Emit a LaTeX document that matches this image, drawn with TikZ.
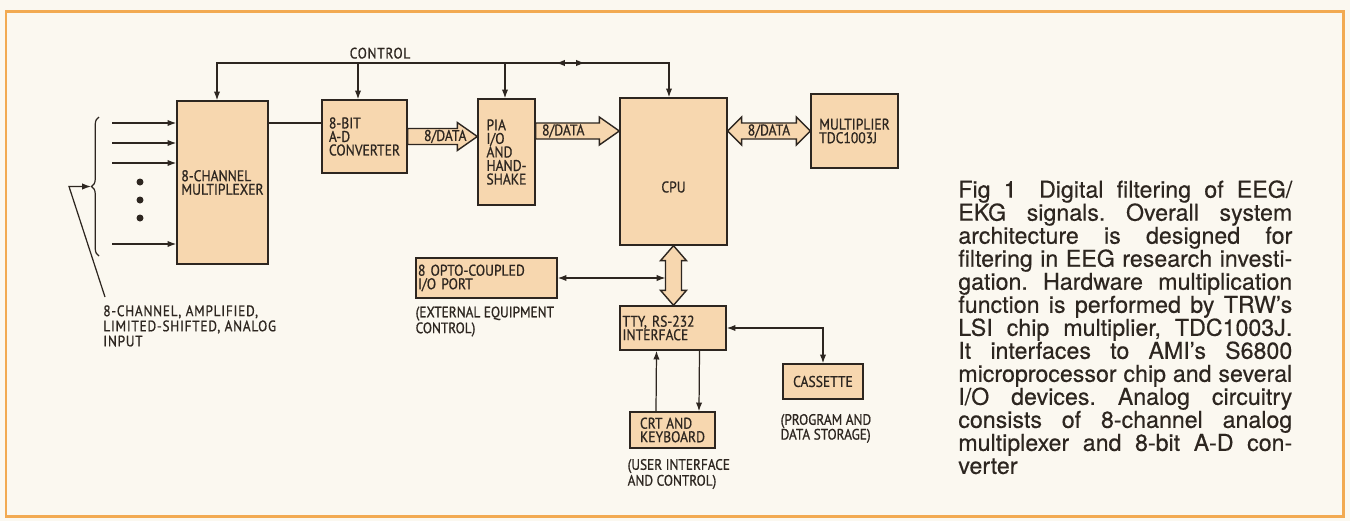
\documentclass[tikz,border=0pt]{standalone}
\usepackage{fontspec}
\setmainfont[FakeBold=0.4]{TeX Gyre Heros}
\newfontfamily\diagfont[FakeStretch=0.88, FakeBold=0.8]{PT Sans}
\newfontfamily\widefont[FakeStretch=0.88, FakeBold=0.8, LetterSpace=5]{PT Sans}
\usepackage{tikz}
\usetikzlibrary{arrows.meta,positioning,calc,decorations.pathreplacing}

\definecolor{paper}{RGB}{251,248,240}
\definecolor{edgeorange}{RGB}{242,170,82}
\definecolor{boxfill}{RGB}{247,215,175}
\definecolor{ink}{RGB}{45,38,32}

\begin{document}
\begin{tikzpicture}[
  x=0.02cm, y=-0.02cm,
  blk/.style={draw=ink, line width=0.8pt, fill=boxfill, text=ink, align=left,
              inner sep=0pt, font=\diagfont\fontsize{8.8}{7.7}\selectfont},
  note/.style={text=ink, align=left, inner sep=0pt,
               font=\diagfont\fontsize{8.6}{7.0}\selectfont},
  wire/.style={draw=ink, line width=0.7pt},
  bus/.style={draw=ink, line width=0.8pt, fill=boxfill},
  bustext/.style={text=ink, inner sep=0pt, font=\diagfont\fontsize{8.8}{8.8}\selectfont},
  % fat bus arrows, sizes in pixel units
  busr/.style={to path={($(\tikztostart)+(0,-8)$) -- ($(\tikztotarget)+(-20,-8)$)
      -- +(0,-6) -- (\tikztotarget) -- +(-20,14) -- +(-20,8)
      -- ($(\tikztostart)+(0,8)$) -- cycle}},
  buslr/.style={to path={(\tikztostart) -- +(14,-14) -- +(14,-8)
      -- ($(\tikztotarget)+(-14,-8)$) -- +(0,-6) -- (\tikztotarget)
      -- +(-14,14) -- +(-14,8) -- ($(\tikztostart)+(14,8)$) -- +(0,6) -- cycle}},
  busud/.style={to path={(\tikztostart) -- +(13,15) -- +(8,15)
      -- ($(\tikztotarget)+(8,-15)$) -- +(5,0) -- (\tikztotarget)
      -- +(-13,-15) -- +(-8,-15) -- ($(\tikztostart)+(-8,15)$) -- +(-5,0) -- cycle}},
  >={Latex[length=5pt,width=3.6pt]}
]
\fill[paper] (0,0) rectangle (1350,521);
\useasboundingbox (0,0) rectangle (1350,521);
\draw[edgeorange, line width=0.06cm] (6,11) rectangle (1343,516);

% blocks
\node[blk, minimum width=1.82cm, minimum height=3.26cm] (mux) at (222.5,182.5) {8-CHANNEL\\MULTIPLEXER};
\node[blk, minimum width=1.70cm, minimum height=1.46cm] (adc) at (364.5,136.5) {8-BIT\\A-D\\CONVERTER};
\node[blk, minimum width=1.14cm, minimum height=2.12cm] (pia) at (506.5,152) {PIA\\I/O\\AND\\HAND-\\SHAKE};
\node[blk, minimum width=2.14cm, minimum height=2.94cm,
      label={[bustext, yshift=-0.31cm]center:CPU}] (cpu) at (673.5,171.5) {};
\node[blk, minimum width=1.74cm, minimum height=1.48cm] (mult) at (854.5,131) {MULTIPLIER\\TDC1003J};
\node[blk, minimum width=2.82cm, minimum height=0.80cm, text width=2.74cm] (opto) at (486.5,278) {8 OPTO-COUPLED\\I/O PORT};
\node[blk, minimum width=2.12cm, minimum height=0.88cm, text width=2.02cm] (tty) at (673,328) {TTY, RS-232\\INTERFACE};
\node[blk, minimum width=1.60cm, minimum height=0.70cm] (cas) at (823,381.5) {CASSETTE};
\node[blk, minimum width=1.70cm, minimum height=0.72cm] (crt) at (672.5,430) {CRT AND\\KEYBOARD};

% notes under blocks
\node[note, below=0.15cm of opto.south west, anchor=north west] (optonote) {(EXTERNAL EQUIPMENT\\CONTROL)};
\node[note, below=0.2cm of crt.south west, anchor=north west, xshift=-0.04cm] (crtnote) {(USER INTERFACE\\AND CONTROL)};
\node[note, below=0.28cm of cas.south west, anchor=north west, xshift=-0.04cm,
      font=\diagfont\fontsize{8.6}{8.4}\selectfont] (casnote) {(PROGRAM AND\\DATA STORAGE)};
\node[note, anchor=north west, font=\widefont\fontsize{8.6}{8.6}\selectfont] (innote) at (103,305)
  {8-CHANNEL, AMPLIFIED,\\LIMITED-SHIFTED, ANALOG\\INPUT};
\node[note, anchor=south, font=\widefont\fontsize{8.6}{8.6}\selectfont] (ctlnote) at (380,59) {CONTROL};

% analog inputs
\foreach \y [count=\i] in {123,143,163,244} {
  \coordinate (in\i) at (112,\y);
  \draw[wire,->] (in\i) -- (in\i -| mux.west);
}
\foreach \y in {182,200,218} \fill[ink] (140,\y) circle (0.07cm);
\draw[wire, decorate, decoration={brace, amplitude=0.15cm}] (99,256) -- (99,117);
\coordinate (btip) at (91,186.5);
\coordinate (bend) at (69,186.5);
\draw[wire,->] ([shift={(2,-8)}]innote.north west) -- (bend) -- (btip);

% control bus
\coordinate (cl) at (217,63);
\coordinate (cr) at (669,63);
\coordinate (ca) at (358,63);
\coordinate (cp) at (505,63);
\coordinate (cm1) at (556,63);
\coordinate (cm2) at (585,63);
\draw[wire,<->] (cl |- mux.north) -- (cl) -- (cr) -- (cr |- cpu.north);
\draw[wire,->] (ca) -- (ca |- adc.north);
\draw[wire,->] (cp) -- (cp |- pia.north);
\draw[wire,<->] (cm1) -- (cm2);

% mux to converter
\coordinate (ma) at ([yshift=0.27cm]adc.west);
\draw[wire] (mux.east |- ma) -- (ma);

% data buses
\path[bus] (adc.east) to[busr] (adc.east -| pia.west);
\node[bustext] (d1) at ($(adc.east)!0.54!(adc.east -| pia.west)$) {8/DATA};
\path[bus] (pia.east |- mult.west) to[busr] (cpu.west |- mult.west);
\node[bustext] (d2) at ($(pia.east |- mult.west)!0.33!(cpu.west |- mult.west)$) {8/DATA};
\path[bus] (cpu.east |- mult.west) to[buslr] (mult.west);
\node[bustext] (d3) at ($(cpu.east |- mult.west)!0.5!(mult.west)$) {8/DATA};
\path[bus] (cpu.south) to[busud] (cpu.south |- tty.north);

% peripherals
\draw[wire,<->] (opto.east) -- ([xshift=-0.16cm]opto.east -| cpu.south);
\draw[wire,<->] (tty.east) -| (cas.north);
\draw[wire,->] ([xshift=-0.33cm]crt.north) -- ([xshift=-0.33cm]tty.south);
\draw[wire,->] ([xshift=0.53cm]tty.south) -- ([xshift=0.53cm]crt.north);

% caption
\node[anchor=north west, inner sep=0pt, text=ink, align=left,
      font=\fontsize{13.2}{13.1}\selectfont\frenchspacing] (cap) at (958,180) {%
  \makebox[6.68cm][s]{Fig 1\hspace{0.4em} Digital filtering of EEG/}\\
  \makebox[6.68cm][s]{EKG signals. Overall system}\\
  \makebox[6.68cm][s]{architecture is designed for}\\
  \makebox[6.68cm][s]{filtering in EEG research investi-}\\
  \makebox[6.68cm][s]{gation. Hardware multiplication}\\
  \makebox[6.68cm][s]{function is performed by TRW's}\\
  \makebox[6.68cm][s]{LSI chip multiplier, TDC1003J.}\\
  \makebox[6.68cm][s]{It interfaces to AMI's S6800}\\
  \makebox[6.68cm][s]{microprocessor chip and several}\\
  \makebox[6.68cm][s]{I/O devices. Analog circuitry}\\
  \makebox[6.68cm][s]{consists of 8-channel analog}\\
  \makebox[6.68cm][s]{multiplexer and 8-bit A-D con-}\\
  verter};
\end{tikzpicture}
\end{document}
